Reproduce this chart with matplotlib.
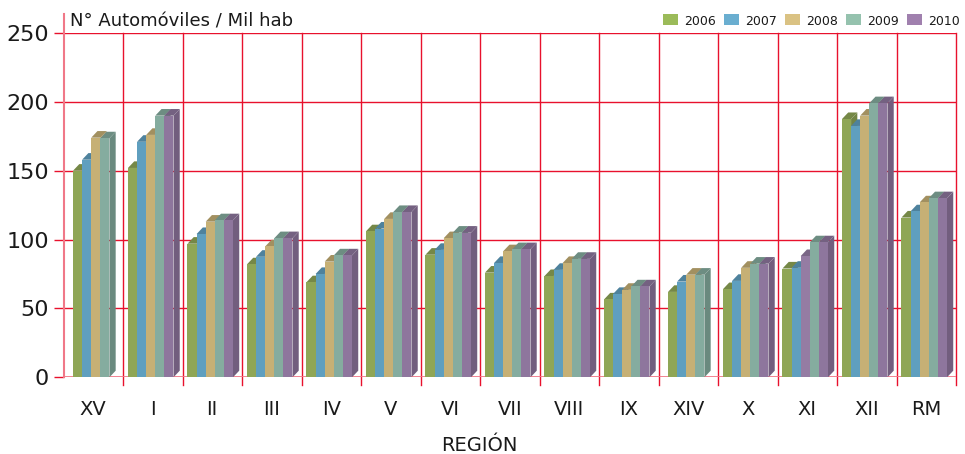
import matplotlib
matplotlib.use("Agg")
import matplotlib.pyplot as plt
from matplotlib.patches import Polygon, Rectangle
from matplotlib.colors import to_rgb

# vehículos por cada mil habitantes, por región y año
REGIONES = ["XV", "I", "II", "III", "IV", "V", "VI", "VII", "VIII",
            "IX", "XIV", "X", "XI", "XII", "RM"]
ANIOS = ["2006", "2007", "2008", "2009", "2010"]
V2006 = [150, 152, 97, 82, 69, 106, 89, 76, 73.5, 56.5, 62, 64, 79, 187.5, 116]
V2007 = [158, 171, 104, 87.5, 75, 108, 92.5, 83, 78, 60.5, 69.5, 70, 79.5, 182.5, 120.5]
V2008 = [174, 176, 113, 95, 84, 115, 101, 91.5, 83, 63.5, 74.5, 79.5, 88, 190, 127]
V2009 = [173.5, 190, 114, 101, 88.5, 120, 105, 93, 86, 66, 74.5, 82.5, 98, 199, 130]
V2010 = [None, 190, 114, 101, 88.5, 120, 105, 93, 86, 66, None, 82.5, 98, 199, 130]
SERIES = [V2006, V2007, V2008, V2009, V2010]

FRONT = ["#8fa656", "#5f9fbf", "#c6b075", "#85ac9f", "#8e769d"]
LEGEND = ["#9bbb59", "#6aaed0", "#dac283", "#95c2ae", "#a080ae"]
# punto con color distinto (XI, 2008)
OVERRIDE = {(12, 2): "#957ca3"}

GRID = "#e8112d"
AXIS = "#f07888"
TXT = "#1a1a1a"

W = 0.153      # ancho de barra (unidades de categoría)
DX = 0.105     # profundidad horizontal
DY = 4.8       # profundidad vertical (unidades de datos)


def shade(c, f=0.82):
    r, g, b = to_rgb(c)
    return (r * f, g * f, b * f)


fig = plt.figure(figsize=(9.65, 4.54), dpi=100)
fig.patch.set_facecolor("white")
ax = fig.add_axes([63.5 / 965, 76.7 / 454, 892.5 / 965, 344.3 / 454])
ax.set_xlim(-0.5, len(REGIONES) - 0.5)
ax.set_ylim(0, 250)

for s in ax.spines.values():
    s.set_visible(False)

# rejilla horizontal
for y in range(50, 251, 50):
    ax.axhline(y, color=GRID, lw=1.0, zorder=1)
# separadores de categoría que bajan bajo el eje
for k in range(1, len(REGIONES) + 1):
    ax.plot([k - 0.5, k - 0.5], [-5.6, 250], color=GRID, lw=1.0,
            zorder=1, clip_on=False)
# eje izquierdo y base
ax.plot([-0.5, -0.5], [0, 264], color=AXIS, lw=1.5, zorder=2, clip_on=False)
ax.axhline(0, color=AXIS, lw=2.0, zorder=2)

z = 3
for i, reg in enumerate(REGIONES):
    present = [j for j in range(len(SERIES)) if SERIES[j][i] is not None]
    n = len(present)
    x_start = i - 0.034 - n * W / 2
    for k, j in enumerate(present):
        h = SERIES[j][i]
        c = OVERRIDE.get((i, j), FRONT[j])
        x0 = x_start + k * W
        front = Rectangle((x0, 0), W, h, facecolor=c, edgecolor="none", zorder=z)
        top = Polygon([(x0, h), (x0 + W, h), (x0 + W + DX, h + DY), (x0 + DX, h + DY)],
                      closed=True, facecolor=shade(c), edgecolor="none", zorder=z)
        side = Polygon([(x0 + W, 0), (x0 + W + DX, DY), (x0 + W + DX, h + DY), (x0 + W, h)],
                       closed=True, facecolor=shade(c, 0.8), edgecolor="none", zorder=z)
        ax.add_patch(side)
        ax.add_patch(top)
        ax.add_patch(front)
        z += 1

ax.set_yticks(range(0, 251, 50))
ax.tick_params(axis="y", length=7, width=1.0, color=GRID, pad=3.5,
               labelsize=16, labelcolor=TXT)
ax.set_xticks(range(len(REGIONES)))
ax.set_xticklabels(REGIONES)
ax.tick_params(axis="x", length=0, pad=16, labelsize=14, labelcolor=TXT)

fig.text(479 / 965, (454 - 451) / 454, "REGIÓN", ha="center", va="baseline",
         fontsize=14, color=TXT)
fig.text(70 / 965, (454 - 26) / 454, "N° Automóviles / Mil hab", ha="left",
         va="baseline", fontsize=13, color=TXT)

# leyenda
for k, (lab, col) in enumerate(zip(ANIOS, LEGEND)):
    x = 663 + k * 61
    fig.add_artist(Rectangle((x / 965, (454 - 25) / 454), 15 / 965, 11 / 454,
                             transform=fig.transFigure, facecolor=col,
                             edgecolor="none"))
    fig.text((x + 21) / 965, (454 - 25) / 454, lab, ha="left", va="baseline",
             fontsize=9, color=TXT)

fig.savefig("out.png", dpi=100, facecolor="white")
